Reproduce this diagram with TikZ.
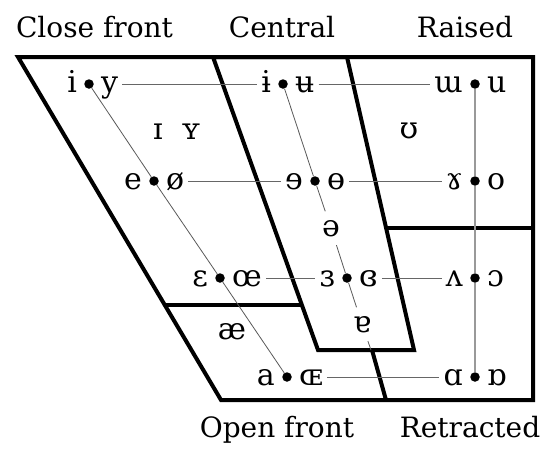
\documentclass[tikz,border=0pt]{standalone}
\usepackage{fontspec}
\setmainfont{DejaVu Serif}
\begin{document}
\begin{tikzpicture}[x=1pt,y=-1pt,
  lab/.style={font=\fontsize{28}{30}\selectfont, inner sep=0pt, anchor=base},
  vow/.style={font=\fontsize{30}{32}\selectfont, inner sep=4pt},
  vl/.style={vow, anchor=base east, yshift=-8pt},
  vr/.style={vow, anchor=base west, yshift=-8pt},
  vs/.style={vow, anchor=base, yshift=-8pt},
  gapnode/.style={vow, anchor=base, yshift=-8pt, fill=white, inner sep=8.5pt},
  dot/.style={circle, fill=black, inner sep=0pt, minimum size=9.5pt},
  frame/.style={line width=4pt, line join=miter},
  hline/.style={draw=black!60, line width=1pt},
  vline/.style={draw=black!40, line width=1.4pt},
  dline/.style={draw=black!65, line width=0.8pt}
]
\useasboundingbox (0,0) rectangle (550,450);

% frame
\draw[frame] (18,57) -- (533,57) -- (533,400) -- (221,400) -- cycle;
\draw[frame] (213,57) -- (347,57) -- (414,350) -- (318,350) -- cycle;
\draw[frame] (386,228) -- (533,228);
\draw[frame] (165,305) -- (302,305);
\draw[frame] (372,350) -- (386,400);

% labels
\node[lab] (lcf) at (94.5,37) {Close front};
\node[lab] (lc) at (282,37) {Central};
\node[lab] (lr) at (465,37) {Raised};
\node[lab] (lof) at (277,437) {Open front};
\node[lab] (lre) at (470,437) {Retracted};

% dots
\node[dot] (d1) at (89,84) {};
\node[dot] (d2) at (283,84) {};
\node[dot] (d3) at (475,84) {};
\node[dot] (d4) at (154,181) {};
\node[dot] (d5) at (315,181) {};
\node[dot] (d6) at (475,181) {};
\node[dot] (d7) at (220,278) {};
\node[dot] (d8) at (347,278) {};
\node[dot] (d9) at (475,278) {};
\node[dot] (d10) at (287,377) {};
\node[dot] (d11) at (475,377) {};
\coordinate (cend) at (371,350);

% paired vowels
\node[vl] (vi) at ([xshift=-3pt]d1.west) {i};
\node[vr] (vy) at ([xshift=3pt]d1.east) {y};
\node[vl] (vib) at ([xshift=-3pt]d2.west) {ɨ};
\node[vr] (vub) at ([xshift=3pt]d2.east) {ʉ};
\node[vl] (vmm) at ([xshift=-3pt]d3.west) {ɯ};
\node[vr] (vu) at ([xshift=3pt]d3.east) {u};
\node[vl] (ve) at ([xshift=-3pt]d4.west) {e};
\node[vr] (voe) at ([xshift=3pt]d4.east) {ø};
\node[vl] (vre) at ([xshift=-3pt]d5.west) {ɘ};
\node[vr] (vbo) at ([xshift=3pt]d5.east) {ɵ};
\node[vl] (vrg) at ([xshift=-3pt]d6.west) {ɤ};
\node[vr] (vo) at ([xshift=3pt]d6.east) {o};
\node[vl] (veps) at ([xshift=-3pt]d7.west) {ɛ};
\node[vr] (voel) at ([xshift=3pt]d7.east) {œ};
\node[vl] (vreps) at ([xshift=-3pt]d8.west) {ɜ};
\node[vr] (vcre) at ([xshift=3pt]d8.east) {ɞ};
\node[vl] (vtv) at ([xshift=-3pt]d9.west) {ʌ};
\node[vr] (voo) at ([xshift=3pt]d9.east) {ɔ};
\node[vl] (va) at ([xshift=-3pt]d10.west) {a};
\node[vr] (vOE) at ([xshift=3pt]d10.east) {ɶ};
\node[vl] (vaa) at ([xshift=-3pt]d11.west) {ɑ};
\node[vr] (vta) at ([xshift=3pt]d11.east) {ɒ};

% single vowels
\node[vs] (vsi) at (158,131) {ɪ};
\node[vs] (vsy) at (191,131) {ʏ};
\node[vs] (vsu) at (409,130) {ʊ};
\node[vs] (vae) at (232,331) {æ};
\node[gapnode] (vschwa) at (331,228) {ə};
\node[gapnode] (vtrna) at (362,324) {ɐ};

% horizontal lines
\draw[hline] (vy.east |- d1) -- (vib.west |- d1);
\draw[hline] (vub.east |- d2) -- (vmm.west |- d2);
\draw[hline] (voe.east |- d4) -- (vre.west |- d4);
\draw[hline] (vbo.east |- d5) -- (vrg.west |- d5);
\draw[hline] (voel.east |- d7) -- (vreps.west |- d7);
\draw[hline] (vcre.east |- d8) -- (vtv.west |- d8);
\draw[hline] (vOE.east |- d10) -- (vaa.west |- d10);

% vertical back line
\draw[vline] (d3) -- (d6) -- (d9) -- (d11);

% front diagonal
\draw[dline] (d1) -- (d4);
\draw[dline] (d4) -- (d7);
\draw[dline] (d7) -- (d10);

% central diagonal
\draw[dline] (d2) -- (d5);
\draw[dline] (d5) -- (vschwa);
\draw[dline] (vschwa) -- (d8);
\draw[dline] (d8) -- (vtrna);
\draw[dline] (vtrna) -- (cend);
\end{tikzpicture}
\end{document}
